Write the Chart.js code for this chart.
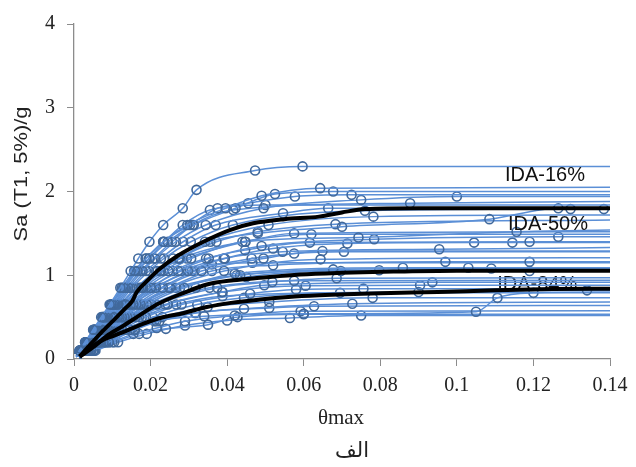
<!DOCTYPE html>
<html>
<head>
<meta charset="utf-8">
<script src="https://cdn.jsdelivr.net/npm/chart.js@4.4.1/dist/chart.umd.min.js"></script>
<style>
  html, body { margin: 0; padding: 0; background: #fff; }
  #wrap { width: 636px; height: 467px; }
</style>
</head>
<body>
<div id="wrap"><canvas id="ida" width="636" height="467"></canvas></div>
<script>
// tick labels / axis texts
var xTicks = [0, 0.02, 0.04, 0.06, 0.08, 0.1, 0.12, 0.14];
var yTicks = [0, 1, 2, 3, 4];
var xTitle = 'θmax';
var yTitle = 'Sa (T1, 5%)/g';
var caption = 'الف';
var fractileNames = ['IDA-16%', 'IDA-50%', 'IDA-84%'];

// common first point of every IDA record (near origin)
var origin = [0.0006, 0.03];

// single-record IDA curves: [θmax, Sa/g]
var rec01 = [[0.0014,0.1],[0.0029,0.2],[0.005,0.35],[0.0071,0.5],[0.0093,0.65],[0.0121,0.85],[0.0148,1.05],[0.0168,1.2],[0.0197,1.4],[0.0233,1.6],[0.0284,1.8],[0.032,2.02],[0.0473,2.25],[0.0597,2.3],[0.14,2.3]];
var rec02 = [[0.0015,0.1],[0.003,0.2],[0.0053,0.35],[0.0076,0.5],[0.0098,0.65],[0.0129,0.85],[0.016,1.05],[0.0189,1.2],[0.0233,1.4],[0.0296,1.6],[0.0396,1.8],[0.049,1.95],[0.0643,2.04],[0.14,2.05]];
var rec03 = [[0.0016,0.1],[0.0031,0.2],[0.0055,0.35],[0.0078,0.5],[0.0102,0.65],[0.0133,0.85],[0.0166,1.05],[0.0197,1.2],[0.0245,1.4],[0.0313,1.6],[0.0422,1.8],[0.0525,1.97],[0.0677,2.0],[0.14,2.0]];
var rec04 = [[0.0015,0.1],[0.0029,0.2],[0.0051,0.35],[0.0074,0.5],[0.0096,0.65],[0.0125,0.85],[0.0157,1.05],[0.0187,1.2],[0.0233,1.4],[0.0303,1.6],[0.0375,1.8],[0.0455,1.86],[0.0577,1.94],[0.0725,1.96],[0.14,1.96]];
var rec05 = [[0.0017,0.1],[0.0033,0.2],[0.0058,0.35],[0.0083,0.5],[0.0108,0.65],[0.0142,0.85],[0.0179,1.05],[0.0212,1.2],[0.0266,1.4],[0.0344,1.6],[0.0495,1.8],[0.075,1.9],[0.1,1.94],[0.14,1.94]];
var rec06 = [[0.0016,0.1],[0.0032,0.2],[0.0056,0.35],[0.0081,0.5],[0.0105,0.65],[0.0137,0.85],[0.0174,1.05],[0.0208,1.2],[0.0256,1.4],[0.031,1.6],[0.0416,1.78],[0.0878,1.86],[0.14,1.88]];
var rec07 = [[0.0015,0.1],[0.003,0.2],[0.0053,0.35],[0.0076,0.5],[0.0098,0.65],[0.0129,0.85],[0.0164,1.05],[0.0196,1.2],[0.0236,1.4],[0.0284,1.6],[0.0355,1.78],[0.05,1.84],[0.14,1.84]];
var rec08 = [[0.0017,0.1],[0.0034,0.2],[0.006,0.35],[0.0086,0.5],[0.0112,0.65],[0.0147,0.85],[0.0188,1.05],[0.0227,1.2],[0.0285,1.4],[0.037,1.6],[0.0546,1.74],[0.0664,1.8],[0.14,1.8]];
var rec09 = [[0.0021,0.1],[0.0042,0.2],[0.0073,0.35],[0.0104,0.5],[0.0135,0.65],[0.0177,0.85],[0.0227,1.05],[0.0275,1.2],[0.0356,1.4],[0.048,1.5],[0.07,1.58],[0.1085,1.67],[0.1265,1.8],[0.14,1.8]];
var rec10 = [[0.0018,0.1],[0.0036,0.2],[0.0063,0.35],[0.0089,0.5],[0.0116,0.65],[0.0152,0.85],[0.0196,1.05],[0.0235,1.2],[0.0305,1.4],[0.0415,1.6],[0.076,1.77],[0.1297,1.79],[0.1384,1.79],[0.14,1.79]];
var rec11 = [[0.0019,0.1],[0.0038,0.2],[0.0067,0.35],[0.0096,0.5],[0.0125,0.65],[0.0163,0.85],[0.0214,1.05],[0.0259,1.2],[0.0342,1.4],[0.0508,1.6],[0.0782,1.7],[0.14,1.72]];
var rec12 = [[0.002,0.1],[0.004,0.2],[0.007,0.35],[0.01,0.5],[0.013,0.65],[0.017,0.85],[0.0225,1.05],[0.0274,1.2],[0.0372,1.4],[0.048,1.52],[0.0683,1.61],[0.14,1.66]];
var rec13 = [[0.0021,0.1],[0.0043,0.2],[0.0074,0.35],[0.0106,0.5],[0.0138,0.65],[0.0181,0.85],[0.0246,1.05],[0.0306,1.2],[0.0447,1.4],[0.0743,1.45],[0.1156,1.52],[0.14,1.54]];
var rec14 = [[0.002,0.1],[0.004,0.2],[0.007,0.35],[0.01,0.5],[0.013,0.65],[0.0175,0.85],[0.0233,1.05],[0.0295,1.2],[0.0448,1.4],[0.0575,1.5],[0.14,1.52]];
var rec15 = [[0.0019,0.1],[0.0037,0.2],[0.0065,0.35],[0.0093,0.5],[0.012,0.65],[0.0162,0.85],[0.0218,1.05],[0.0278,1.2],[0.044,1.4],[0.062,1.49],[0.14,1.49]];
var rec16 = [[0.0023,0.1],[0.0045,0.2],[0.008,0.35],[0.0114,0.5],[0.0148,0.65],[0.0201,0.85],[0.0272,1.05],[0.0352,1.2],[0.049,1.35],[0.0784,1.43],[0.1265,1.46],[0.14,1.46]];
var rec17 = [[0.0021,0.1],[0.0042,0.2],[0.0073,0.35],[0.0104,0.5],[0.0135,0.65],[0.0188,0.85],[0.0258,1.05],[0.0345,1.2],[0.0447,1.3],[0.0616,1.39],[0.119,1.4],[0.14,1.4]];
var rec18 = [[0.0024,0.1],[0.0048,0.2],[0.0083,0.35],[0.0119,0.5],[0.0155,0.65],[0.0214,0.85],[0.0298,1.05],[0.0394,1.2],[0.052,1.32],[0.0714,1.38],[0.1045,1.39],[0.1145,1.39],[0.14,1.39]];
var rec19 = [[0.0022,0.1],[0.0043,0.2],[0.0076,0.35],[0.0109,0.5],[0.0141,0.65],[0.0199,0.85],[0.028,1.05],[0.0391,1.2],[0.0545,1.28],[0.0954,1.31],[0.14,1.33]];
var rec20 = [[0.0025,0.1],[0.005,0.2],[0.0088,0.35],[0.0125,0.5],[0.0163,0.65],[0.0232,0.85],[0.0333,1.05],[0.0495,1.2],[0.0649,1.29],[0.14,1.29]];
var rec21 = [[0.0023,0.1],[0.0045,0.2],[0.008,0.35],[0.0114,0.5],[0.0148,0.65],[0.021,0.85],[0.0308,1.05],[0.0464,1.2],[0.0575,1.26],[0.0705,1.28],[0.14,1.28]];
var rec22 = [[0.0026,0.1],[0.0053,0.2],[0.0092,0.35],[0.0132,0.5],[0.0174,0.65],[0.0251,0.85],[0.0392,1.05],[0.0644,1.19],[0.14,1.21]];
var rec23 = [[0.0025,0.1],[0.005,0.2],[0.0088,0.35],[0.0125,0.5],[0.0168,0.65],[0.0247,0.85],[0.036,1.05],[0.052,1.12],[0.097,1.16],[0.119,1.16],[0.14,1.16]];
var rec24 = [[0.0023,0.1],[0.0045,0.2],[0.008,0.35],[0.0114,0.5],[0.0152,0.65],[0.0226,0.85],[0.0315,1.05],[0.036,1.13],[0.0466,1.15],[0.14,1.15]];
var rec25 = [[0.0028,0.1],[0.0056,0.2],[0.0097,0.35],[0.0139,0.5],[0.019,0.65],[0.0288,0.85],[0.042,1.02],[0.0859,1.09],[0.103,1.09],[0.14,1.09]];
var rec26 = [[0.0026,0.1],[0.0053,0.2],[0.0092,0.35],[0.0132,0.5],[0.0181,0.65],[0.0277,0.85],[0.0434,1.0],[0.0677,1.07],[0.109,1.08],[0.14,1.08]];
var rec27 = [[0.0029,0.1],[0.0059,0.2],[0.0103,0.35],[0.0147,0.5],[0.0203,0.65],[0.0318,0.85],[0.045,0.98],[0.0697,1.05],[0.119,1.05],[0.14,1.05]];
var rec28 = [[0.0025,0.1],[0.005,0.2],[0.0088,0.35],[0.0125,0.5],[0.0172,0.65],[0.0266,0.85],[0.0425,1.0],[0.0797,1.06],[0.14,1.06]];
var rec29 = [[0.003,0.1],[0.0061,0.2],[0.0106,0.35],[0.0152,0.5],[0.0217,0.65],[0.0374,0.85],[0.0518,0.92],[0.0686,0.965],[0.14,0.97]];
var rec30 = [[0.0028,0.1],[0.0056,0.2],[0.0097,0.35],[0.014,0.5],[0.0201,0.65],[0.0354,0.85],[0.0575,0.935],[0.14,0.94]];
var rec31 = [[0.0033,0.1],[0.0067,0.2],[0.0117,0.35],[0.017,0.5],[0.0245,0.65],[0.0387,0.8],[0.0497,0.88],[0.0936,0.915],[0.14,0.915]];
var rec32 = [[0.0031,0.1],[0.0063,0.2],[0.0109,0.35],[0.0161,0.5],[0.0238,0.65],[0.0388,0.8],[0.0605,0.876],[0.0904,0.88],[0.14,0.88]];
var rec33 = [[0.0036,0.1],[0.0071,0.2],[0.0125,0.35],[0.0188,0.5],[0.0281,0.65],[0.046,0.78],[0.058,0.83],[0.0756,0.84],[0.14,0.84]];
var rec34 = [[0.0033,0.1],[0.0067,0.2],[0.0117,0.35],[0.0177,0.5],[0.0267,0.65],[0.0388,0.75],[0.09,0.8],[0.134,0.82],[0.14,0.82]];
var rec35 = [[0.0038,0.1],[0.0077,0.2],[0.0135,0.35],[0.0206,0.5],[0.0322,0.65],[0.0444,0.73],[0.0695,0.79],[0.14,0.79]];
var rec36 = [[0.0045,0.1],[0.0091,0.2],[0.0159,0.35],[0.0215,0.45],[0.034,0.51],[0.06,0.54],[0.105,0.565],[0.1106,0.73],[0.12,0.79],[0.14,0.8]];
var rec37 = [[0.0042,0.1],[0.0083,0.2],[0.0146,0.35],[0.0231,0.5],[0.0349,0.62],[0.051,0.68],[0.078,0.73],[0.14,0.73]];
var rec38 = [[0.0045,0.1],[0.0091,0.2],[0.0159,0.35],[0.0223,0.45],[0.0318,0.55],[0.0444,0.6],[0.0727,0.66],[0.14,0.68]];
var rec39 = [[0.0042,0.1],[0.0083,0.2],[0.0146,0.35],[0.021,0.45],[0.0316,0.55],[0.051,0.61],[0.0627,0.63],[0.14,0.64]];
var rec40 = [[0.005,0.1],[0.01,0.2],[0.0155,0.3],[0.0216,0.37],[0.029,0.45],[0.042,0.52],[0.0592,0.57],[0.14,0.575]];
var rec41 = [[0.0053,0.1],[0.0105,0.2],[0.017,0.3],[0.024,0.36],[0.035,0.41],[0.0427,0.5],[0.06,0.535],[0.14,0.535]];
var rec42 = [[0.0056,0.1],[0.0115,0.2],[0.019,0.3],[0.029,0.4],[0.04,0.46],[0.0564,0.49],[0.075,0.52],[0.14,0.52]];

// fractile curves (thick black)
var ida16 = [[0.0015,0.03],[0.004,0.16],[0.007,0.31],[0.0105,0.47],[0.0135,0.61],[0.0152,0.69],[0.0164,0.8],[0.0195,0.95],[0.0225,1.08],[0.027,1.23],[0.0338,1.4],[0.0407,1.54],[0.0468,1.62],[0.055,1.67],[0.064,1.7],[0.07,1.75],[0.076,1.79],[0.09,1.8],[0.14,1.8]];
var ida50 = [[0.0015,0.03],[0.005,0.14],[0.009,0.29],[0.013,0.4],[0.0164,0.5],[0.022,0.66],[0.0287,0.79],[0.0347,0.89],[0.0416,0.94],[0.0486,0.97],[0.059,1.01],[0.07,1.03],[0.085,1.045],[0.1,1.055],[0.14,1.055]];
var ida84 = [[0.0015,0.03],[0.004,0.12],[0.0068,0.21],[0.0105,0.28],[0.0138,0.34],[0.018,0.42],[0.0225,0.49],[0.0287,0.55],[0.0347,0.62],[0.041,0.67],[0.0486,0.71],[0.056,0.74],[0.064,0.76],[0.08,0.785],[0.095,0.8],[0.11,0.82],[0.125,0.835],[0.14,0.84]];

var records = [rec01, rec02, rec03, rec04, rec05, rec06, rec07, rec08, rec09, rec10,
  rec11, rec12, rec13, rec14, rec15, rec16, rec17, rec18, rec19, rec20,
  rec21, rec22, rec23, rec24, rec25, rec26, rec27, rec28, rec29, rec30,
  rec31, rec32, rec33, rec34, rec35, rec36, rec37, rec38, rec39, rec40,
  rec41, rec42];
var fractiles = [ida16, ida50, ida84];

function toXY(arr) {
  return arr.map(function (p) { return { x: p[0], y: p[1] }; });
}

var datasets = [];
fractiles.forEach(function (f, i) {
  datasets.push({
    label: fractileNames[i],
    data: toXY(f),
    borderColor: '#000000',
    borderWidth: 4,
    pointRadius: 0,
    cubicInterpolationMode: 'monotone',
    fill: false
  });
});
records.forEach(function (r, i) {
  datasets.push({
    label: 'record ' + (i + 1),
    data: toXY([origin].concat(r)),
    borderColor: '#5B8FD6',
    borderWidth: 1.5,
    pointStyle: 'circle',
    // last point is the flat collapse extension, no marker there
    pointRadius: function (ctx) {
      return ctx.dataIndex === ctx.dataset.data.length - 1 ? 0 : 4.5;
    },
    pointBorderColor: '#41699C',
    pointBackgroundColor: 'rgba(0,0,0,0)',
    pointBorderWidth: 1.6,
    cubicInterpolationMode: 'monotone',
    fill: false
  });
});

// texts: axis titles, caption, fractile labels
var textPlugin = {
  id: 'idaTexts',
  beforeDatasetsDraw: function (chart) {
    var ctx = chart.ctx, xs = chart.scales.x, ys = chart.scales.y;
    ctx.save();
    ctx.font = '20px "Liberation Sans", Arial, sans-serif';
    ctx.fillStyle = '#111';
    ctx.textAlign = 'center';
    ctx.textBaseline = 'middle';
    ctx.fillText(fractileNames[2], xs.getPixelForValue(0.121), ys.getPixelForValue(0.89));
    ctx.restore();
  },
  afterDatasetsDraw: function (chart) {
    var ctx = chart.ctx, xs = chart.scales.x, ys = chart.scales.y;
    ctx.save();
    ctx.font = '20px "Liberation Sans", Arial, sans-serif';
    ctx.fillStyle = '#111';
    ctx.textAlign = 'center';
    ctx.textBaseline = 'middle';
    ctx.fillText(fractileNames[0], xs.getPixelForValue(0.123), ys.getPixelForValue(2.19));
    ctx.fillText(fractileNames[1], xs.getPixelForValue(0.1238), ys.getPixelForValue(1.61));
    ctx.restore();
  },
  afterDraw: function (chart) {
    var ctx = chart.ctx;
    ctx.save();
    ctx.fillStyle = '#222';
    ctx.textAlign = 'center';
    ctx.textBaseline = 'middle';
    // y title (rotated, slightly stretched like the source)
    ctx.translate(22, 174);
    ctx.rotate(-Math.PI / 2);
    ctx.scale(1.15, 1);
    ctx.font = '19px "Liberation Sans", Arial, sans-serif';
    ctx.fillText(yTitle, 0, 0);
    ctx.restore();

    ctx.save();
    ctx.fillStyle = '#222';
    ctx.textAlign = 'center';
    ctx.textBaseline = 'middle';
    ctx.font = '21px "Liberation Serif", "Times New Roman", serif';
    ctx.fillText(xTitle, 341, 418);
    ctx.font = '21px "DejaVu Sans", sans-serif';
    ctx.fillText(caption, 352, 452);
    ctx.restore();
  }
};

var axisGrey = '#8C8C8C';
var tickFont = { family: '"Liberation Serif", "Times New Roman", serif', size: 20 };

new Chart(document.getElementById('ida'), {
  type: 'line',
  data: { datasets: datasets },
  options: {
    responsive: false,
    animation: false,
    events: [],
    layout: { padding: { left: 0, top: 18, right: 26, bottom: 0 } },
    plugins: {
      legend: { display: false },
      tooltip: { enabled: false }
    },
    scales: {
      x: {
        type: 'linear',
        min: 0,
        max: 0.14,
        afterFit: function (scale) { scale.height = 108; },
        afterBuildTicks: function (scale) {
          scale.ticks = xTicks.map(function (v) { return { value: v }; });
        },
        ticks: {
          font: tickFont,
          color: '#222',
          padding: 8,
          maxRotation: 0,
          callback: function (v) { return String(+Number(v).toFixed(2)); }
        },
        grid: { drawOnChartArea: false, drawTicks: true, tickLength: 7, color: axisGrey },
        border: { color: axisGrey, width: 1.3 }
      },
      y: {
        type: 'linear',
        min: 0,
        max: 4,
        afterFit: function (scale) { scale.width = 74; },
        afterBuildTicks: function (scale) {
          scale.ticks = yTicks.map(function (v) { return { value: v }; });
        },
        ticks: {
          font: tickFont,
          color: '#222',
          padding: 12,
          callback: function (v) { return String(v); }
        },
        grid: { drawOnChartArea: false, drawTicks: true, tickLength: 7, color: axisGrey },
        border: { color: axisGrey, width: 1.3 }
      }
    }
  },
  plugins: [textPlugin]
});
</script>
</body>
</html>
